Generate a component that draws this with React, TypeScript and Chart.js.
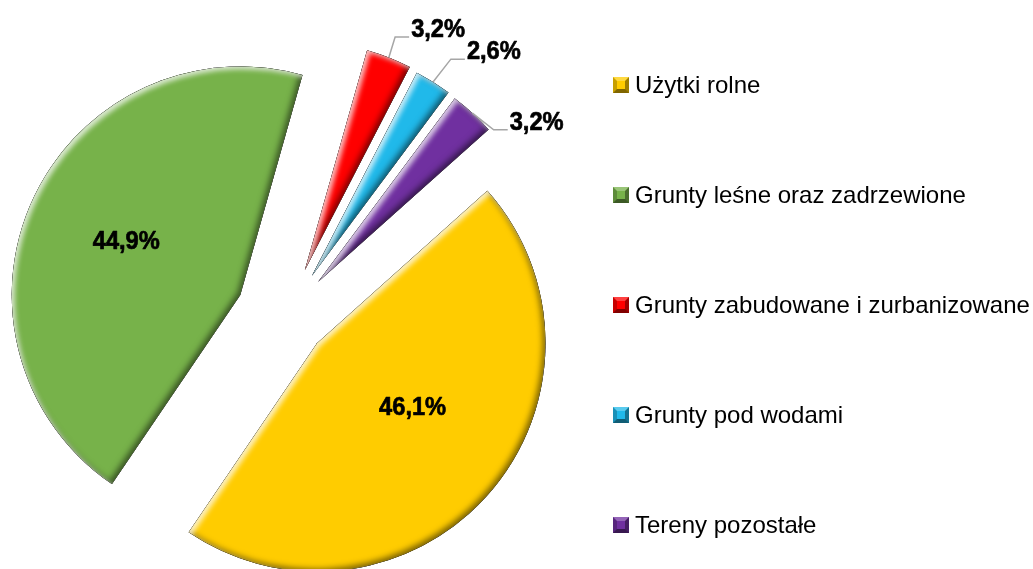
import React, { useEffect, useRef } from "react";
import { Chart, registerables } from "chart.js";

Chart.register(...registerables);

// ---------- data ----------
const categories = [
  "Użytki rolne",
  "Grunty leśne oraz zadrzewione",
  "Grunty zabudowane i zurbanizowane",
  "Grunty pod wodami",
  "Tereny pozostałe",
];
const shares = [46.1, 44.9, 3.2, 2.6, 3.2];
const sliceColors = ["#FFCC00", "#77B24A", "#FF0000", "#20B9EA", "#7030A0"];

// ---------- styling options ----------
const explodePx = [40.5, 51, 50, 48, 47]; // how far each slice is pulled out of the centre
const labelInside = [true, true, false, false, false];
const labelAngle = [-8, 1, -73, -52, 38]; // inside: shift from bisector; outside: leader direction (deg)
const labelDist = [0.5, 0.555, 21.5, 29, 27]; // inside: fraction of radius; outside: leader length px

const fmt = (v: number) => v.toFixed(1).replace(".", ",") + "%";

function hexToRgb(h: string) {
  const n = parseInt(h.slice(1), 16);
  return [(n >> 16) & 255, (n >> 8) & 255, n & 255];
}
function shade(h: string, f: number) {
  const [r, g, b] = hexToRgb(h);
  return `rgb(${Math.round(r * f)},${Math.round(g * f)},${Math.round(b * f)})`;
}
function tint(h: string, f: number) {
  const [r, g, b] = hexToRgb(h);
  return `rgb(${Math.round(r + (255 - r) * f)},${Math.round(g + (255 - g) * f)},${Math.round(b + (255 - b) * f)})`;
}

function arcGeom(arc: any, i: number) {
  const p = arc.getProps(["x", "y", "startAngle", "endAngle", "outerRadius"], true);
  const mid = (p.startAngle + p.endAngle) / 2;
  const d = explodePx[i] || 0;
  return {
    cx: p.x + Math.cos(mid) * d,
    cy: p.y + Math.sin(mid) * d,
    r: p.outerRadius,
    start: p.startAngle,
    end: p.endAngle,
    mid,
  };
}

// pulls each arc element out along its bisector (the arc itself is still painted by Chart.js)
const explodePlugin = {
  id: "explode",
  afterUpdate(chart: any) {
    const meta = chart.getDatasetMeta(0);
    meta.data.forEach((arc: any, i: number) => {
      if (arc.__exploded) return;
      const orig = arc.draw;
      arc.draw = function (ctx: CanvasRenderingContext2D, area: any) {
        const mid = (this.startAngle + this.endAngle) / 2;
        const d = explodePx[i] || 0;
        ctx.save();
        ctx.translate(Math.cos(mid) * d, Math.sin(mid) * d);
        orig.call(this, ctx, area);
        ctx.restore();
      };
      arc.__exploded = true;
    });
  },
};

const bevelPlugin = {
  id: "bevel",
  afterDatasetsDraw(chart: any) {
    const ctx = chart.ctx as CanvasRenderingContext2D;
    const meta = chart.getDatasetMeta(0);
    meta.data.forEach((arc: any, i: number) => {
      const g = arcGeom(arc, i);
      const path = new Path2D();
      path.moveTo(g.cx, g.cy);
      path.arc(g.cx, g.cy, g.r, g.start, g.end);
      path.closePath();
      const hole = new Path2D();
      hole.rect(-3000, -3000, 7000, 7000);
      hole.addPath(path);
      ctx.save();
      ctx.clip(path);
      // dark rim on lower-right facing edges
      ctx.shadowColor = "rgba(0,0,0,0.55)";
      ctx.shadowBlur = 6;
      ctx.shadowOffsetX = -2.5;
      ctx.shadowOffsetY = -2.5;
      ctx.fillStyle = "#000";
      ctx.fill(hole, "evenodd");
      // light rim on upper-left facing edges
      ctx.shadowColor = "rgba(255,255,255,0.75)";
      ctx.shadowBlur = 5;
      ctx.shadowOffsetX = 3;
      ctx.shadowOffsetY = 3;
      ctx.fill(hole, "evenodd");
      ctx.restore();
    });
  },
};

const labelPlugin = {
  id: "sliceLabels",
  afterDraw(chart: any) {
    const ctx = chart.ctx as CanvasRenderingContext2D;
    const meta = chart.getDatasetMeta(0);
    const fontPx = 26;
    const sx = 0.91;
    const capH = fontPx * 0.716;
    meta.data.forEach((arc: any, i: number) => {
      const g = arcGeom(arc, i);
      const text = fmt(shares[i]);
      ctx.save();
      ctx.font = `bold ${fontPx}px "Liberation Sans", Arial, sans-serif`;
      ctx.fillStyle = "#000";
      ctx.textBaseline = "alphabetic";
      let tx = 0;
      let ty = 0;
      if (labelInside[i]) {
        const a = g.mid + (labelAngle[i] * Math.PI) / 180;
        tx = g.cx + Math.cos(a) * g.r * labelDist[i];
        ty = g.cy + Math.sin(a) * g.r * labelDist[i] + capH / 2;
        ctx.textAlign = "center";
      } else {
        const x0 = g.cx + Math.cos(g.mid) * g.r;
        const y0 = g.cy + Math.sin(g.mid) * g.r;
        const a = (labelAngle[i] * Math.PI) / 180;
        const x1 = x0 + Math.cos(a) * labelDist[i];
        const y1 = y0 + Math.sin(a) * labelDist[i];
        const x2 = x1 + 14;
        ctx.strokeStyle = "#A6A6A6";
        ctx.lineWidth = 1.5;
        ctx.beginPath();
        ctx.moveTo(x0, y0);
        ctx.lineTo(x1, y1);
        ctx.lineTo(x2, y1);
        ctx.stroke();
        tx = x2 + 2;
        ty = y1;
        ctx.textAlign = "left";
      }
      ctx.translate(tx, ty);
      ctx.scale(sx, 1);
      ctx.fillText(text, 0, 0);
      ctx.strokeStyle = "#000";
      ctx.lineWidth = 0.7;
      ctx.lineJoin = "round";
      ctx.strokeText(text, 0, 0);
      ctx.restore();
    });
  },
};

export default function App() {
  const ref = useRef<HTMLCanvasElement | null>(null);

  useEffect(() => {
    if (!ref.current) return;
    const chart = new Chart(ref.current, {
      type: "pie",
      data: {
        labels: categories,
        datasets: [
          {
            data: shares,
            backgroundColor: sliceColors,
            borderWidth: 0,
            offset: 0,
            hoverOffset: 0,
          } as any,
        ],
      },
      options: {
        responsive: false,
        animation: false,
        rotation: 48.2,
        radius: 228.5,
        layout: { padding: { left: 0, right: 460, top: 64, bottom: 0 } },
        plugins: {
          legend: { display: false },
          tooltip: { enabled: false },
        },
        events: [],
      } as any,
      plugins: [explodePlugin, bevelPlugin, labelPlugin],
    });
    return () => chart.destroy();
  }, []);

  return (
    <div
      style={{
        position: "absolute",
        left: 0,
        top: 0,
        width: 1033,
        height: 569,
        background: "#fff",
        overflow: "hidden",
      }}
    >
      <canvas ref={ref} width={1033} height={569} style={{ position: "absolute", left: 0, top: 0 }} />
      {categories.map((c, i) => (
        <div
          key={c}
          style={{
            position: "absolute",
            left: 613,
            top: 84.5 + 110 * i - 12,
            height: 24,
            display: "flex",
            alignItems: "center",
            whiteSpace: "nowrap",
            fontFamily: '"Liberation Sans", Arial, sans-serif',
            fontSize: 24,
            lineHeight: "24px",
            color: "#000",
          }}
        >
          <span
            style={{
              display: "inline-block",
              width: 16,
              height: 16,
              boxSizing: "border-box",
              border: "4px solid",
              borderTopColor: tint(sliceColors[i], 0.25),
              borderLeftColor: shade(sliceColors[i], 0.78),
              borderRightColor: shade(sliceColors[i], 0.62),
              borderBottomColor: shade(sliceColors[i], 0.5),
              background: sliceColors[i],
              marginRight: 6,
              flex: "none",
            }}
          />
          <span>{c}</span>
        </div>
      ))}
    </div>
  );
}
